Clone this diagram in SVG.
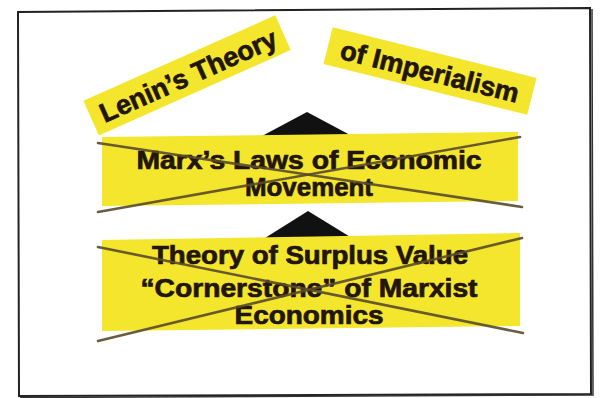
<svg xmlns="http://www.w3.org/2000/svg" width="600" height="398" viewBox="0 0 600 398">
<style>
.band{fill:#f4e62c}
.t{font-family:"Liberation Sans",Arial,sans-serif;font-weight:bold;fill:#22150d;stroke:#22150d;stroke-width:0.7;text-anchor:middle}
.x{stroke:#5a4a2c;stroke-width:2.6;fill:none;stroke-linecap:round;opacity:0.9}
.arrow{fill:#111}
</style>
<rect width="600" height="398" fill="#ffffff"/>
<g id="frame">
<path d="M18,12 L590,8 L591,394 L19,396 Z" fill="none" stroke="#222" stroke-width="2"/>
<path d="M592,9 L593,395 L20,397.5" fill="none" stroke="#333" stroke-width="1.5"/>
</g>
<g id="connectors">
<polygon class="arrow" points="307,112 262,136 352,136"/>
<polygon class="arrow" points="308,211 265,238 352,238"/>
</g>
<g id="node-lenin" transform="translate(188,75) rotate(-24)">
<rect class="band" x="-106" y="-19" width="210" height="38"/>
<text class="t" x="0" y="10" font-size="27">Lenin’s Theory</text>
</g>
<g id="node-imperialism" transform="translate(430,71) rotate(14)">
<rect class="band" x="-105" y="-19" width="210" height="38"/>
<text class="t" x="0" y="10" font-size="27">of Imperialism</text>
</g>
<g id="node-marx-laws">
<polygon class="band" points="102,137 518,132 518,201 102,206"/>
<text class="t" x="309" y="169" font-size="25" textLength="345" lengthAdjust="spacingAndGlyphs">Marx’s Laws of Economic</text>
<text class="t" x="309" y="196" font-size="25" textLength="128" lengthAdjust="spacingAndGlyphs">Movement</text>
<line class="x" x1="98" y1="143" x2="522" y2="207"/>
<line class="x" x1="98" y1="212" x2="520" y2="137"/>
</g>
<g id="node-surplus-value">
<polygon class="band" points="102,240 520,233 520,326 102,331"/>
<text class="t" x="310" y="264" font-size="25" textLength="316" lengthAdjust="spacingAndGlyphs">Theory of Surplus Value</text>
<text class="t" x="309" y="297" font-size="25" textLength="337" lengthAdjust="spacingAndGlyphs">“Cornerstone” of Marxist</text>
<text class="t" x="309" y="324" font-size="25" textLength="149" lengthAdjust="spacingAndGlyphs">Economics</text>
<line class="x" x1="98" y1="247" x2="523" y2="333"/>
<line class="x" x1="98" y1="341" x2="522" y2="238"/>
</g>
</svg>
